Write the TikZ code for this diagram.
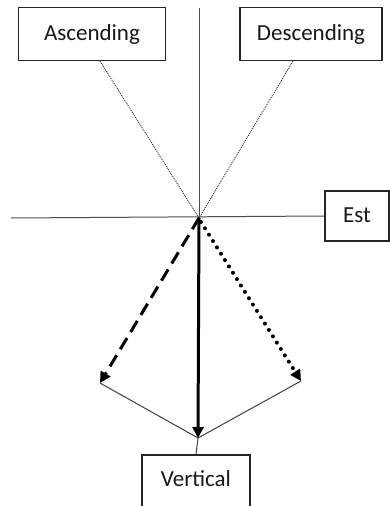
\documentclass[tikz,border=0pt]{standalone}
\usepackage{fontspec}
\setmainfont{Carlito}
\usetikzlibrary{arrows.meta,calc}
\tikzset{
  box/.style={draw=black!85, line width=1.3pt, fill=white, inner sep=0pt, font=\fontsize{23}{27}\selectfont, text=black!90},
  axis/.style={draw=black!70, line width=1pt},
  guide/.style={draw=black!80, line width=0.9pt, dash pattern=on 1pt off 1pt},
  thin/.style={draw=black!75, line width=1pt},
  tipT/.style={-{Triangle[length=11pt,width=11pt]}},
}
\begin{document}
\begin{tikzpicture}[x=1pt,y=-1pt]
\useasboundingbox (0,0) rectangle (389,506);
\fill[white] (0,0) rectangle (389,506);
\coordinate (O) at (199,218);
\coordinate (top) at (199,8);
\coordinate (left) at (11,218);
\coordinate (L) at (100,383);
\coordinate (R) at (301,381);
\coordinate (V) at (198,438);
% axes
\draw[axis] (top) -- (O);
\node[box, minimum width=64pt, minimum height=50pt] (est) at (357,216) {\raisebox{2pt}{Est}};
\draw[axis] (left) -- (est.west);
\node[box, minimum width=147pt, minimum height=53pt] (asc) at (92,34) {Ascending};
\node[box, minimum width=142pt, minimum height=53pt] (desc) at (311,34) {Descending};
\node[box, minimum width=108pt, minimum height=52pt] (vert) at (196,481) {\raisebox{5pt}{Vertical}};
% guide lines
\draw[guide] ([xshift=8pt]asc.south) -- (O);
\draw[guide] ([xshift=-18pt]desc.south) -- (O);
% thin lines
\draw[thin] (V) -- (L);
\draw[thin] (V) -- (R);
\draw[thin] (V) -- (vert.north);
% thick arrows
\draw[line width=3pt, dash pattern=on 13pt off 7pt, tipT] (O) -- (L);
\draw[line width=4pt, line cap=round, dash pattern=on 0pt off 7.5pt, tipT] ([shift={(2,4)}]O) -- (R);
\draw[line width=3pt, tipT] (O) -- (V);
\end{tikzpicture}
\end{document}
